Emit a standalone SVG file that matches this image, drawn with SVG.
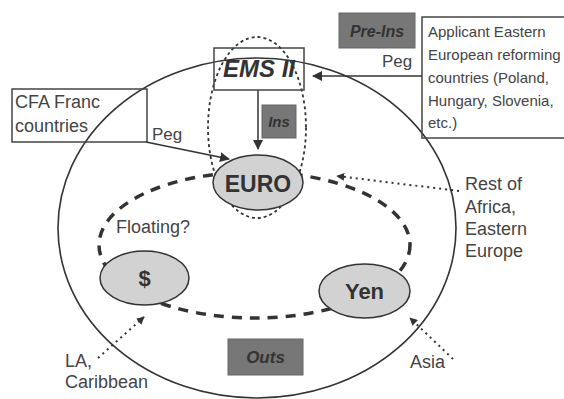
<svg xmlns="http://www.w3.org/2000/svg" width="564" height="399" viewBox="0 0 564 399">
<defs>
<marker id="ah" viewBox="0 0 10 10" refX="9" refY="5" markerWidth="10" markerHeight="10" markerUnits="userSpaceOnUse" orient="auto">
<path d="M0,0 L10,5 L0,10 Z" fill="#333"/>
</marker>
<marker id="ahs" viewBox="0 0 10 10" refX="9" refY="5" markerWidth="8" markerHeight="8" markerUnits="userSpaceOnUse" orient="auto">
<path d="M0,0 L10,5 L0,10 Z" fill="#333"/>
</marker>
</defs>
<style>
.t{font-family:"Liberation Sans",Arial,sans-serif;fill:#444;font-size:18px}
.tb{font-family:"Liberation Sans",Arial,sans-serif;fill:#333;font-weight:bold;text-anchor:middle}
.bi{font-family:"Liberation Sans",Arial,sans-serif;fill:#333;font-weight:bold;font-style:italic;text-anchor:middle}
.box{fill:none;stroke:#444;stroke-width:1.5}
.dark{fill:#777;stroke:#666;stroke-width:1}
.cur{fill:#d2d2d2;stroke:#333;stroke-width:1.5}
.line{stroke:#333;stroke-width:1.5;fill:none}
.dot{stroke:#333;stroke-width:2;fill:none;stroke-dasharray:2,4}
</style>
<rect width="564" height="399" fill="#fff"/>
<g id="world">
<ellipse cx="257" cy="228" rx="199" ry="170" fill="none" stroke="#333" stroke-width="1.6"/>
</g>
<g id="ems-zone">
<ellipse cx="257" cy="127.5" rx="49" ry="90.5" fill="none" stroke="#333" stroke-width="1.8" stroke-dasharray="3,3"/>
</g>
<g id="float-ring">
<ellipse cx="254.5" cy="245" rx="155.5" ry="73" fill="none" stroke="#333" stroke-width="3.5" stroke-dasharray="10,8"/>
</g>
<g id="applicant">
<rect class="box" x="422" y="17" width="160" height="121"/>
<text class="t" style="font-size:15px" x="428" y="37">Applicant Eastern</text>
<text class="t" style="font-size:15px" x="428" y="60">European reforming</text>
<text class="t" style="font-size:15px" x="428" y="83">countries (Poland,</text>
<text class="t" style="font-size:15px" x="428" y="106">Hungary, Slovenia,</text>
<text class="t" style="font-size:15px" x="428" y="128">etc.)</text>
</g>
<g id="cfa">
<rect class="box" x="12" y="89" width="135" height="53"/>
<text class="t" x="15" y="108">CFA Franc</text>
<text class="t" x="15" y="132">countries</text>
</g>
<g id="connectors">
<line class="line" x1="422" y1="76" x2="313" y2="76" marker-end="url(#ah)"/>
<line class="line" x1="258" y1="90" x2="258" y2="149" marker-end="url(#ah)"/>
<line class="line" x1="146" y1="142" x2="229" y2="159" marker-end="url(#ah)"/>
<line class="dot" x1="459" y1="191" x2="337" y2="176" marker-end="url(#ahs)"/>
<line class="dot" x1="98" y1="358" x2="144" y2="317" marker-end="url(#ahs)"/>
<line class="dot" x1="453" y1="359" x2="410" y2="318" marker-end="url(#ahs)"/>
</g>
<g id="ems">
<rect class="box" x="214" y="48" width="90" height="42"/>
<text class="bi" x="259" y="77" font-size="24">EMS II</text>
</g>
<g id="pre-ins">
<rect class="dark" x="339" y="13" width="76" height="35"/>
<text class="bi" x="377" y="37" font-size="16">Pre-Ins</text>
</g>
<g id="ins">
<rect class="dark" x="262" y="105" width="34" height="33"/>
<text class="bi" x="279" y="127" font-size="15">Ins</text>
</g>
<g id="outs">
<rect class="dark" x="228" y="339" width="75" height="36"/>
<text class="bi" x="265.5" y="363" font-size="17">Outs</text>
</g>
<g id="euro">
<ellipse class="cur" cx="258" cy="182.5" rx="45" ry="27.5"/>
<text class="tb" x="258" y="192" font-size="23">EURO</text>
</g>
<g id="dollar">
<ellipse class="cur" cx="144.5" cy="278" rx="44.5" ry="27"/>
<text class="tb" x="144.5" y="286" font-size="22">$</text>
</g>
<g id="yen">
<ellipse class="cur" cx="364.5" cy="291" rx="45.5" ry="27"/>
<text class="tb" x="364.5" y="299" font-size="22">Yen</text>
</g>
<g id="labels">
<text class="t" x="382" y="67" style="font-size:17px">Peg</text>
<text class="t" x="152" y="140" style="font-size:17px">Peg</text>
<text class="t" x="116" y="233">Floating?</text>
<text class="t" x="465" y="190">Rest of</text>
<text class="t" x="465" y="213">Africa,</text>
<text class="t" x="465" y="235">Eastern</text>
<text class="t" x="465" y="257">Europe</text>
<text class="t" x="65" y="367">LA,</text>
<text class="t" x="65" y="388">Caribbean</text>
<text class="t" x="410" y="368">Asia</text>
</g>
</svg>
